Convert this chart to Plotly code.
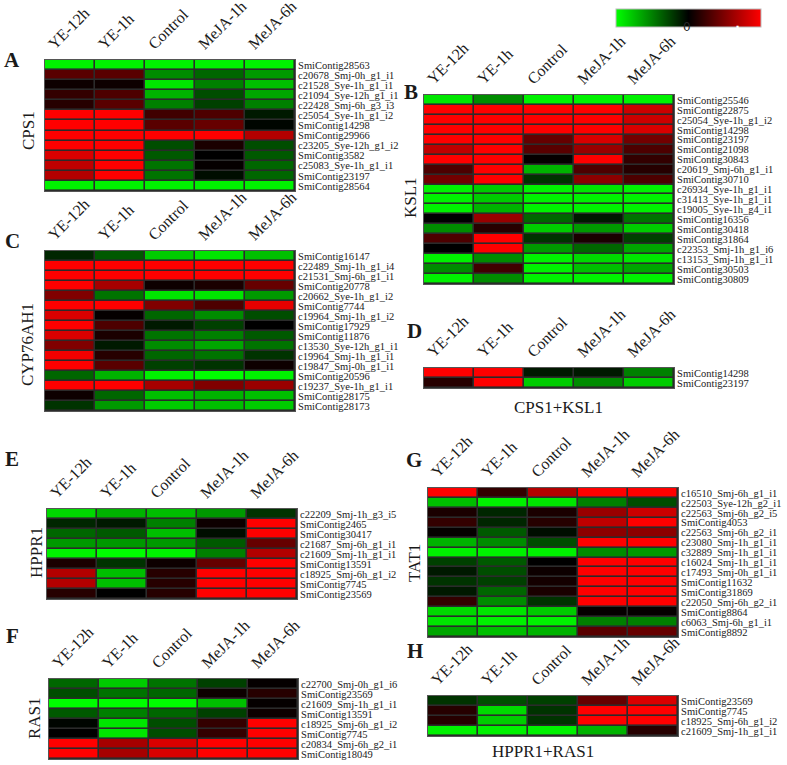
import plotly.graph_objects as go

W, H = 787, 765

conditions = ["YE-12h", "YE-1h", "Control", "MeJA-1h", "MeJA-6h"]

cps1_rows = ["SmiContig28563", "c20678_Smj-0h_g1_i1", "c21528_Sye-1h_g1_i1", "c21094_Sye-12h_g1_i1",
             "c22428_Smj-6h_g3_i3", "c25054_Sye-1h_g1_i2", "SmiContig14298", "SmiContig29966",
             "c23205_Sye-12h_g1_i2", "SmiContig3582", "c25083_Sye-1h_g1_i1", "SmiContig23197", "SmiContig28564"]
cps1_vals = [[-0.95, -0.95, -0.95, -0.95, -0.95],
             [0.35, 0.35, -0.55, -0.4, -0.6],
             [0.05, 0.05, -0.9, -0.5, -0.75],
             [0.2, 0.3, -0.7, -0.3, -0.65],
             [0.15, 0.35, -0.5, -0.25, -0.5],
             [1, 1, 0.25, 0.3, -0.1],
             [1, 1, 0.35, 0.4, -0.02],
             [1, 1, 1, 1, 0.7],
             [1, 1, -0.3, 0.1, -0.3],
             [0.85, 1, -0.35, 0.0, -0.35],
             [0.75, 1, -0.45, 0.02, -0.4],
             [0.7, 1, -0.45, -0.05, -0.4],
             [-0.95, -0.95, -0.95, -0.95, -0.95]]

ksl1_rows = ["SmiContig25546", "SmiContig22875", "c25054_Sye-1h_g1_i2", "SmiContig14298", "SmiContig23197",
             "SmiContig21098", "SmiContig30843", "c20619_Smj-6h_g1_i1", "SmiContig30710", "c26934_Sye-1h_g1_i1",
             "c31413_Sye-1h_g1_i1", "c19005_Sye-1h_g4_i1", "SmiContig16356", "SmiContig30418", "SmiContig31864",
             "c22353_Smj-1h_g1_i6", "c13153_Smj-1h_g1_i1", "SmiContig30503", "SmiContig30809"]
ksl1_vals = [[-0.9, -0.55, -0.95, -0.95, -0.95],
             [1, 1, 1, 1, 0.8],
             [1, 1, 1, 1, 0.8],
             [1, 1, 1, 1, 0.85],
             [1, 1, 0.4, 0.85, 0.45],
             [0.75, 1, 0.35, 0.6, 0.3],
             [1, 1, 0.02, 1, 0.2],
             [0.3, 1, -0.7, 0.3, 0.15],
             [0.45, 1, -0.2, 0.55, 0.3],
             [-0.95, -0.8, -0.95, -0.9, -0.95],
             [-0.95, -0.8, -0.95, -0.95, -0.95],
             [-0.95, -0.7, -0.95, -0.95, -0.95],
             [0.0, 0.6, -0.4, -0.1, -0.45],
             [-0.55, 0.15, -0.8, -0.6, -0.8],
             [0.3, 1, -0.2, 0.1, -0.25],
             [0.0, 1, -0.6, -0.4, -0.65],
             [-0.95, -0.55, -0.95, -0.85, -0.9],
             [-0.55, 0.25, -0.95, -0.75, -0.65],
             [-0.95, -0.55, -0.95, -0.95, -0.95]]

cyp_rows = ["SmiContig16147", "c22489_Smj-1h_g1_i4", "c21531_Smj-6h_g1_i1", "SmiContig20778",
            "c20662_Sye-1h_g1_i2", "SmiContig7744", "c19964_Smj-1h_g1_i2", "SmiContig17929", "SmiContig11876",
            "c13530_Sye-12h_g1_i1", "c19964_Smj-1h_g1_i1", "c19847_Smj-0h_g1_i1", "SmiContig20596",
            "c19237_Sye-1h_g1_i1", "SmiContig28175", "SmiContig28173"]
cyp_vals = [[-0.15, -0.35, -0.8, -0.9, -0.75],
            [1, 1, 1, 1, 1],
            [1, 1, 1, 1, 1],
            [1, 0.65, 0.05, 0.1, 0.4],
            [0.5, -0.45, -0.9, -0.9, -0.6],
            [1, 1, 0.5, 0.3, 0.9],
            [0.85, 0.02, -0.4, -0.55, -0.3],
            [1, 0.3, -0.1, -0.25, 0.0],
            [0.85, 0.1, -0.45, -0.5, -0.35],
            [0.5, -0.1, -0.55, -0.65, -0.45],
            [0.95, 0.15, -0.4, -0.45, -0.2],
            [1, 0.35, -0.25, -0.2, 0.05],
            [-0.4, -0.7, -0.95, -1, -0.95],
            [1, 1, 0.65, 0.5, 0.6],
            [0.05, -0.4, -0.75, -0.7, -0.75],
            [-0.2, -0.6, -0.8, -0.75, -0.8]]

cpsksl_rows = ["SmiContig14298", "SmiContig23197"]
cpsksl_vals = [[1, 1, -0.1, -0.1, -0.5],
               [0.15, 1, -0.8, -0.55, -0.8]]

hppr_rows = ["c22209_Smj-1h_g3_i5", "SmiContig2465", "SmiContig30417", "c21687_Smj-6h_g1_i1",
             "c21609_Smj-1h_g1_i1", "SmiContig13591", "c18925_Smj-6h_g1_i2", "SmiContig7745", "SmiContig23569"]
hppr_vals = [[-0.85, -0.7, -0.75, -0.6, -0.2],
             [-0.15, -0.1, -0.5, 0.05, 1],
             [-0.4, -0.35, -0.75, -0.05, 1],
             [-0.6, -0.6, -0.6, -0.35, 0.4],
             [-0.95, -1, -0.95, -0.5, 0.7],
             [0.1, -0.2, 0.05, 0.4, 1],
             [0.7, -0.75, 0.15, 1, 1],
             [0.7, -0.75, 0.15, 1, 1],
             [0.15, 0.0, 0.15, 1, 1]]

ras_rows = ["c22700_Smj-0h_g1_i6", "SmiContig23569", "c21609_Smj-1h_g1_i1", "SmiContig13591",
            "c18925_Smj-6h_g1_i2", "SmiContig7745", "c20834_Smj-6h_g2_i1", "SmiContig18049"]
ras_vals = [[-0.4, -0.8, -0.45, -0.25, 0.02],
            [-0.3, -0.45, -0.4, 0.05, 0.15],
            [-1, -1, -1, -0.75, 0.02],
            [-0.35, -0.5, -0.4, -0.25, 0.05],
            [-0.02, -0.9, -0.3, 0.2, 1],
            [0.0, -0.9, -0.3, 0.2, 1],
            [1, 0.65, 0.85, 1, 1],
            [1, 0.65, 0.85, 1, 1]]

tat_rows = ["c16510_Smj-6h_g1_i1", "c22503_Sye-12h_g2_i1", "c22563_Smj-6h_g2_i5", "SmiContig4053",
            "c22563_Smj-6h_g2_i1", "c23080_Smj-1h_g1_i1", "c32889_Smj-1h_g1_i1", "c16024_Smj-1h_g1_i1",
            "c17493_Smj-0h_g1_i1", "SmiContig11632", "SmiContig31869", "c22050_Smj-6h_g2_i1",
            "SmiContig8864", "c6063_Smj-6h_g1_i1", "SmiContig8892"]
tat_vals = [[1, 0.2, 0.7, 1, 1],
            [-0.75, -0.95, -0.9, -0.5, -0.3],
            [0.1, -0.15, 0.1, 0.6, 0.8],
            [0.2, -0.15, 0.15, 0.75, 1],
            [0.02, -0.35, -0.05, 0.55, 0.55],
            [-0.7, -0.55, -0.3, 1, 1],
            [-0.95, -0.95, -0.95, -0.55, -0.6],
            [-0.25, -0.35, 0.0, 1, 1],
            [-0.1, -0.3, 0.05, 1, 1],
            [-0.2, -0.25, 0.08, 1, 1],
            [-0.1, -0.4, 0.1, 1, 1],
            [0.2, -0.55, -0.2, 1, 1],
            [-0.85, -0.9, -0.8, 0.02, 0.02],
            [-0.9, -0.95, -0.95, -0.5, -0.5],
            [-0.65, -0.75, -0.7, 0.35, 0.4]]

hppras_rows = ["SmiContig23569", "SmiContig7745", "c18925_Smj-6h_g1_i2", "c21609_Smj-1h_g1_i1"]
hppras_vals = [[-0.2, -0.3, -0.25, 0.4, 0.85],
               [0.15, -0.85, -0.2, 1, 1],
               [0.15, -0.8, -0.2, 1, 1],
               [-0.95, -0.95, -0.95, -0.7, 0.15]]

# (letter, rows, values, pixel box x0,x1,y0,y1)
panels = [
    ("A", cps1_rows, cps1_vals, (45, 295, 60, 191)),
    ("B", ksl1_rows, ksl1_vals, (424, 674, 95, 284)),
    ("C", cyp_rows, cyp_vals, (45, 295, 251, 411)),
    ("D", cpsksl_rows, cpsksl_vals, (424, 674, 368, 388)),
    ("E", hppr_rows, hppr_vals, (47, 297, 509, 599)),
    ("F", ras_rows, ras_vals, (49, 298, 679, 759)),
    ("G", tat_rows, tat_vals, (428, 678, 488, 637)),
    ("H", hppras_rows, hppras_vals, (428, 678, 696, 736)),
]

letter_pos = {"A": (12, 60), "B": (411, 92), "C": (12, 241), "D": (414, 331),
              "E": (12, 459), "F": (12, 636), "G": (414, 460), "H": (415, 651)}
gene_labels = [("CPS1", 28, 131, -90), ("KSL1", 411, 198, -90), ("CYP76AH1", 28, 345, -90),
               ("HPPR1", 36, 553, -90), ("RAS1", 34, 718, -90), ("TAT1", 414, 563, -90),
               ("CPS1+KSL1", 558, 407, 0), ("HPPR1+RAS1", 543, 751, 0)]

SERIF = "Liberation Serif"
TXT = "#1a1a1a"

fig = go.Figure()
layout = dict(
    width=W, height=H, margin=dict(l=0, r=0, t=0, b=0),
    paper_bgcolor="white", plot_bgcolor="#2b2b2b",
    showlegend=False, template="none",
    coloraxis=dict(
        cmin=-1, cmax=1,
        colorscale=[[0, "#00ff00"], [0.5, "#000000"], [1, "#ff0000"]],
        colorbar=dict(orientation="h", x=616 / W, xanchor="left", y=1 - 9 / H, yanchor="top",
                      lenmode="pixels", len=145, thickness=18, xpad=0, ypad=0,
                      showticklabels=False, ticks="", outlinewidth=1, outlinecolor="#bbbbbb"),
    ),
)

for i, (letter, rows, vals, (x0, x1, y0, y1)) in enumerate(panels, start=1):
    n = len(rows)
    xa = "x" if i == 1 else f"x{i}"
    ya = "y" if i == 1 else f"y{i}"
    fig.add_trace(go.Heatmap(
        z=vals, x=list(range(len(conditions))), y=list(range(n)),
        coloraxis="coloraxis", xgap=1.6, ygap=1.6, xaxis=xa, yaxis=ya,
        hovertemplate="%{z}<extra></extra>"))
    layout[f"xaxis{'' if i == 1 else i}"] = dict(
        domain=[x0 / W, x1 / W], range=[-0.5, len(conditions) - 0.5], anchor=ya,
        side="top", tickmode="array", tickvals=[j - 0.42 for j in range(len(conditions))],
        ticktext=conditions, tickangle=-45, ticks="", showgrid=False, zeroline=False,
        showline=True, linecolor="#555555", linewidth=1, mirror=True,
        tickfont=dict(family=SERIF, size=16, color=TXT), automargin=False, fixedrange=True)
    layout[f"yaxis{'' if i == 1 else i}"] = dict(
        domain=[1 - y1 / H, 1 - y0 / H], range=[n - 0.5, -0.5], anchor=xa,
        side="right", tickmode="array", tickvals=list(range(n)), ticktext=rows,
        ticks="", showgrid=False, zeroline=False,
        showline=True, linecolor="#555555", linewidth=1, mirror=True,
        tickfont=dict(family=SERIF, size=10.5, color=TXT), automargin=False, fixedrange=True)

fig.update_layout(**layout)

annots = []
for letter, (px, py) in letter_pos.items():
    annots.append(dict(text=f"<b>{letter}</b>", x=px / W, y=1 - py / H, xref="paper", yref="paper",
                       showarrow=False, xanchor="center", yanchor="middle",
                       font=dict(family=SERIF, size=21, color=TXT)))
for txt, px, py, ang in gene_labels:
    annots.append(dict(text=txt, x=px / W, y=1 - py / H, xref="paper", yref="paper",
                       showarrow=False, xanchor="center", yanchor="middle", textangle=ang,
                       font=dict(family=SERIF, size=17, color=TXT)))
annots += [
    dict(text="<b>−</b>", x=630 / W, y=1 - 18 / H, xref="paper", yref="paper", showarrow=False,
         font=dict(family="DejaVu Sans", size=16, color="white")),
    dict(text="<b>+</b>", x=747 / W, y=1 - 18 / H, xref="paper", yref="paper", showarrow=False,
         font=dict(family="DejaVu Sans", size=18, color="white")),
    dict(text="0", x=693 / W, y=1 - 18 / H, xref="paper", yref="paper", showarrow=False,
         font=dict(family="DejaVu Sans", size=12, color="#262626")),
]
fig.update_layout(annotations=annots)

fig.write_html("out.html", config={"displayModeBar": False},
               post_script="document.body.style.margin='0';document.body.style.padding='0';")
